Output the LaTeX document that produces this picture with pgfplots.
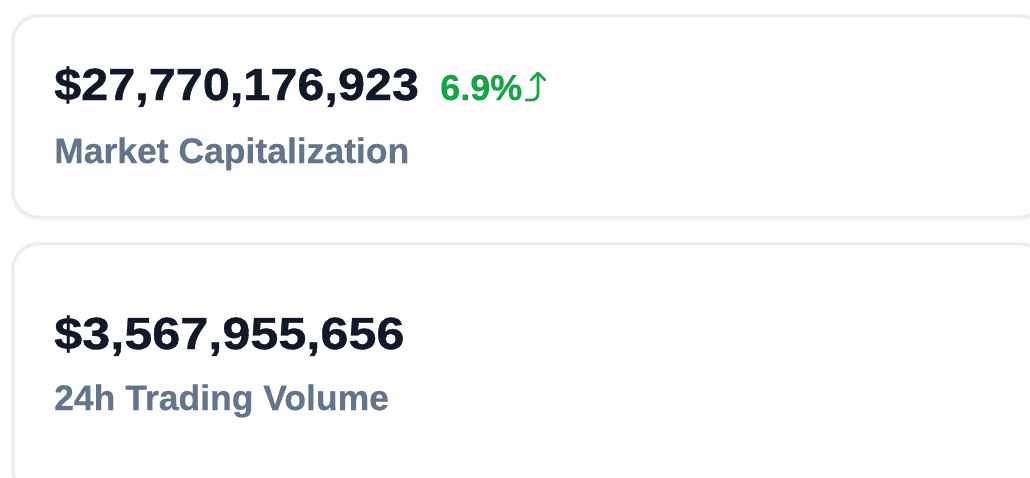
\documentclass[border=0pt]{standalone}
\usepackage{pgfplots}
\pgfplotsset{compat=1.18}
\usepackage{fontspec}
\setmainfont{Liberation Sans}
\newfontfamily\numA[FakeStretch=1.08, FakeBold=0.8]{Liberation Sans}
\newfontfamily\numB[FakeStretch=1.12, FakeBold=0.8]{Liberation Sans}
\newfontfamily\labfont[FakeBold=0.4]{Liberation Sans}
\definecolor{ink}{HTML}{111827}
\definecolor{muted}{HTML}{64748B}
\definecolor{up}{HTML}{16A34A}
\definecolor{cardline}{HTML}{E9ECF0}
\definecolor{cardshade}{HTML}{F3F4F6}
\definecolor{cardfill}{HTML}{FEFEFE}
\begin{document}
\begin{tikzpicture}
\begin{axis}[name=frame,
  width=1030pt, height=477pt, scale only axis,
  xmin=0, xmax=1030, ymin=0, ymax=477, y dir=reverse,
  hide axis, clip=true]
% cards
\draw[cardshade, line width=5pt, rounded corners=26pt] (axis cs:13,16) rectangle (axis cs:1045,218);
\draw[cardline, line width=2.5pt, fill=cardfill, rounded corners=26pt] (axis cs:13,16) rectangle (axis cs:1045,217);
\draw[cardshade, line width=5pt, rounded corners=26pt] (axis cs:13,244) rectangle (axis cs:1045,495);
\draw[cardline, line width=2.5pt, fill=cardfill, rounded corners=26pt] (axis cs:13,244) rectangle (axis cs:1045,495);
% market capitalization
\node[anchor=base west, inner sep=0pt, text=ink, font=\numA\bfseries\fontsize{45}{50}\selectfont] at (axis cs:54,100) {\$27,770,176,923};
\node[anchor=base west, inner sep=0pt, text=up, font=\labfont\bfseries\fontsize{36}{40}\selectfont] at (axis cs:440,100) {6.9\%};
% up arrow (no installed font has the hooked arrow)
\draw[up, line width=2.8pt, line cap=round, line join=round]
  (axis cs:526,100) -- (axis cs:532,100) to[out=0,in=-90] (axis cs:538,94) -- (axis cs:538,73);
\draw[up, line width=2.8pt, line cap=round, line join=round]
  (axis cs:531,80) -- (axis cs:538,73) -- (axis cs:545,80);
\node[anchor=base west, inner sep=0pt, text=muted, font=\labfont\bfseries\fontsize{35.5}{40}\selectfont] at (axis cs:54,163) {Market Capitalization};
% trading volume
\node[anchor=base west, inner sep=0pt, text=ink, font=\numB\bfseries\fontsize{45}{50}\selectfont] at (axis cs:54,349) {\$3,567,955,656};
\node[anchor=base west, inner sep=0pt, text=muted, font=\labfont\bfseries\fontsize{35.5}{40}\selectfont] at (axis cs:54,410) {24h Trading Volume};
\end{axis}
\pgfresetboundingbox
\path[use as bounding box] (frame.south west) rectangle (frame.north east);
\end{tikzpicture}
\end{document}
